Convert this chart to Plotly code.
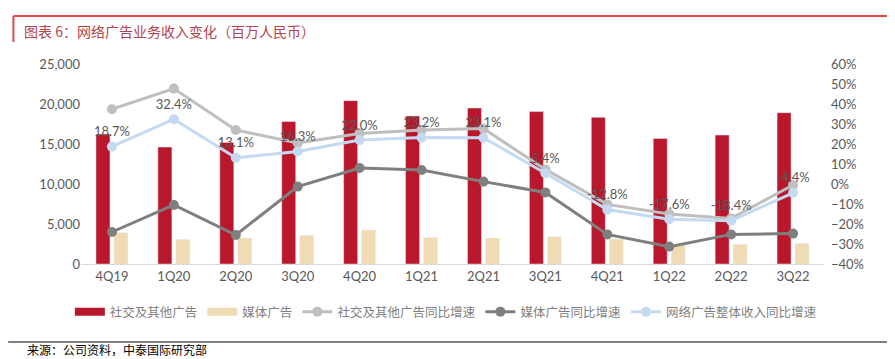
import plotly.graph_objects as go

categories = ["4Q19", "1Q20", "2Q20", "3Q20", "4Q20", "1Q21", "2Q21", "3Q21", "4Q21", "1Q22", "2Q22", "3Q22"]
social_rev = [16250, 14620, 15200, 17800, 20420, 18500, 19500, 19050, 18330, 15700, 16120, 18920]
media_rev = [3920, 3080, 3250, 3580, 4250, 3290, 3250, 3420, 3120, 2380, 2460, 2580]
social_yoy = [37.4, 47.7, 27.0, 20.5, 25.3, 27.0, 27.7, 7.3, -10.2, -15.0, -17.2, -0.5]
media_yoy = [-24.0, -10.5, -25.5, -1.3, 8.0, 7.0, 1.2, -4.2, -25.2, -31.3, -25.2, -24.8]
total_yoy = [18.7, 32.4, 13.1, 16.3, 22.0, 23.2, 23.1, 5.4, -12.8, -17.6, -18.4, -4.4]
total_labels = [f"{v:.1f}%" for v in total_yoy]

RED = "#B8172C"
BEIGE = "#F0DCB4"
tick_font = dict(family="Lato, Open Sans, sans-serif", size=13, color="#595959")
cjk = "Noto Sans CJK SC"

fig = go.Figure()
fig.add_trace(go.Bar(x=categories, y=social_rev, name="社交及其他广告", marker_color=RED, showlegend=False))
fig.add_trace(go.Bar(x=categories, y=media_rev, name="媒体广告", marker_color=BEIGE, showlegend=False))
# legend proxies (wide rectangles like the reference)
fig.add_trace(go.Scatter(x=[None], y=[None], name="社交及其他广告", mode="lines",
                         line=dict(color=RED, width=8)))
fig.add_trace(go.Scatter(x=[None], y=[None], name="媒体广告", mode="lines",
                         line=dict(color=BEIGE, width=8)))
fig.add_trace(go.Scatter(x=categories, y=social_yoy, name="社交及其他广告同比增速", yaxis="y2",
                         mode="lines+markers", line=dict(color="#BFBFBF", width=3),
                         marker=dict(size=10, color="#BFBFBF")))
fig.add_trace(go.Scatter(x=categories, y=media_yoy, name="媒体广告同比增速", yaxis="y2",
                         mode="lines+markers", line=dict(color="#7F7F7F", width=3),
                         marker=dict(size=10, color="#7F7F7F")))
fig.add_trace(go.Scatter(x=categories, y=total_yoy, name="网络广告整体收入同比增速", yaxis="y2",
                         mode="lines+markers+text", line=dict(color="#C5DAF0", width=3),
                         marker=dict(size=10, color="#C5DAF0"),
                         text=total_labels, textposition="top center",
                         textfont=dict(family="Lato, Open Sans, sans-serif", size=13, color="#595959")))

fig.update_layout(
    width=887, height=351,
    margin=dict(l=73, r=71, t=56, b=95, autoexpand=False),
    paper_bgcolor="white", plot_bgcolor="white",
    barmode="group", bargap=0.42, bargroupgap=0.22,
    showlegend=True,
    legend=dict(orientation="h", x=-0.015, xanchor="left", y=-0.24, yanchor="middle",
                font=dict(family=cjk, size=12.5, color="#7F7F7F"), itemwidth=30,
                traceorder="normal"),
    xaxis=dict(range=[-0.5, 11.5], showgrid=False, showline=True, linecolor="#D9D9D9", linewidth=1,
               ticks="", tickfont=tick_font),
    yaxis=dict(range=[0, 25000], dtick=5000, tickformat=",", showgrid=False,
               zeroline=False, showline=False, tickfont=tick_font, ticks=""),
    yaxis2=dict(range=[-40, 60], dtick=10, ticksuffix="%", overlaying="y", side="right",
                showgrid=False, zeroline=False, showline=False, tickfont=tick_font,
                ticklabelstandoff=6),
    shapes=[
        dict(type="line", xref="paper", yref="paper", x0=-0.091, x1=1.1, y0=1.24, y1=1.24,
             line=dict(color="#E0474C", width=2)),
        dict(type="line", xref="paper", yref="paper", x0=-0.091, x1=-0.091, y0=1.24, y1=1.11,
             line=dict(color="#E0474C", width=2)),
        dict(type="line", xref="paper", yref="paper", x0=-0.098, x1=1.09, y0=-0.39, y1=-0.39,
             line=dict(color="#7F7F7F", width=2)),
    ],
    annotations=[
        dict(text="图表 6：网络广告业务收入变化（百万人民币）", xref="paper", yref="paper",
             x=-0.079, y=1.165, xanchor="left", yanchor="middle", showarrow=False,
             font=dict(family=cjk, size=14, color="#B4434A")),
        dict(text="来源：公司资料，中泰国际研究部", xref="paper", yref="paper",
             x=-0.076, y=-0.425, xanchor="left", yanchor="middle", showarrow=False,
             font=dict(family=cjk, size=12, color="#000000")),
    ],
)

fig.write_html("out.html")
